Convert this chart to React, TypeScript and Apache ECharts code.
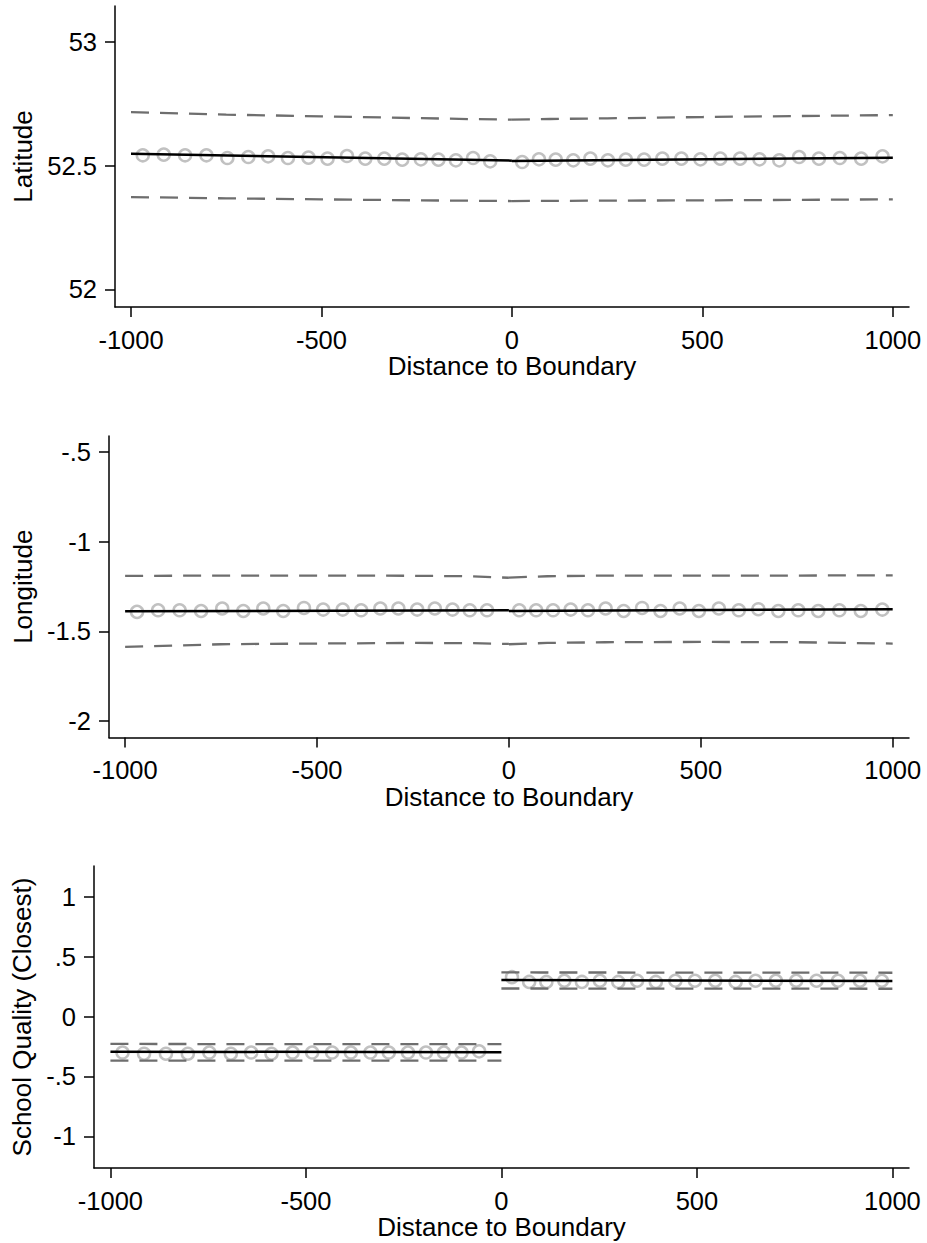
import React, { useEffect, useRef } from "react";
import * as echarts from "echarts";

// Bin centres (distance to boundary), shared by the three panels
const binXLeft = [-969, -914, -858, -802, -747, -692, -640, -588, -534, -484, -433, -385, -335, -288, -239, -193, -147, -102, -57];
const binXRight = [27, 71, 115, 161, 206, 252, 299, 347, 395, 445, 495, 547, 599, 650, 702, 754, 806, 861, 917, 973];

// Panel 1: Latitude
const latLeft = [52.5417, 52.5445, 52.5417, 52.5417, 52.5307, 52.5348, 52.5376, 52.5307, 52.5323, 52.5283, 52.5388, 52.5283, 52.5283, 52.5243, 52.5255, 52.5243, 52.5214, 52.5307, 52.5174];
const latRight = [52.5146, 52.5255, 52.5243, 52.5214, 52.5283, 52.5214, 52.5243, 52.5243, 52.5283, 52.5283, 52.5255, 52.5283, 52.5283, 52.5255, 52.5214, 52.5348, 52.5283, 52.5307, 52.5283, 52.5376];

// Panel 2: Longitude
const lonLeft = [-1.391, -1.382, -1.382, -1.386, -1.372, -1.386, -1.372, -1.386, -1.369, -1.378, -1.378, -1.382, -1.372, -1.372, -1.378, -1.372, -1.378, -1.382, -1.382];
const lonRight = [-1.382, -1.382, -1.382, -1.378, -1.382, -1.372, -1.386, -1.369, -1.386, -1.372, -1.386, -1.372, -1.382, -1.376, -1.386, -1.382, -1.386, -1.382, -1.386, -1.378];

// Panel 3: School Quality (Closest)
const sqLeft = [-0.3, -0.31, -0.31, -0.31, -0.3, -0.31, -0.3, -0.31, -0.3, -0.3, -0.3, -0.3, -0.3, -0.3, -0.3, -0.3, -0.3, -0.3, -0.29];
const sqRight = [0.33, 0.29, 0.29, 0.3, 0.29, 0.3, 0.29, 0.3, 0.29, 0.3, 0.3, 0.3, 0.29, 0.3, 0.3, 0.3, 0.3, 0.3, 0.3, 0.3];

// Linear fits (end points)
const fitXLeft = [-1000, 0];
const fitXRight = [0, 1000];
const latFitLeft = [52.5485, 52.5202];
const latFitRight = [52.5186, 52.5323];
const lonFitLeft = [-1.3874, -1.382];
const lonFitRight = [-1.3857, -1.3762];
const sqFitLeft = [-0.293, -0.297];
const sqFitRight = [0.306, 0.298];

// Confidence bands
const ciXLeft = [-1000, -750, -500, -250, -100, 0];
const ciXRight = [0, 100, 250, 500, 750, 1000];
const latUpLeft = [52.7167, 52.7062, 52.6994, 52.6921, 52.688, 52.686];
const latUpRight = [52.686, 52.6885, 52.6913, 52.6965, 52.7006, 52.7042];
const latLoLeft = [52.373, 52.3678, 52.3637, 52.3597, 52.358, 52.3569];
const latLoRight = [52.3569, 52.3575, 52.3585, 52.3597, 52.3617, 52.3637];
const lonUpLeft = [-1.1907, -1.1885, -1.1885, -1.1896, -1.1924, -1.2007];
const lonUpRight = [-1.1996, -1.1924, -1.1885, -1.1885, -1.1885, -1.187];
const lonLoLeft = [-1.5862, -1.5711, -1.5672, -1.5639, -1.565, -1.5695];
const lonLoRight = [-1.5711, -1.5639, -1.56, -1.5583, -1.56, -1.5672];
const sqUpLeft = [-0.228, -0.229, -0.229, -0.229, -0.23, -0.23];
const sqUpRight = [0.37, 0.369, 0.369, 0.368, 0.368, 0.367];
const sqLoLeft = [-0.368, -0.368, -0.367, -0.367, -0.368, -0.368];
const sqLoRight = [0.235, 0.235, 0.234, 0.234, 0.234, 0.233];

// Axis ticks and titles
const xTicks = [-1000, -500, 0, 500, 1000];
const yTicks1 = [52, 52.5, 53];
const yTicks2 = [-2, -1.5, -1, -0.5];
const yTicks3 = [-1, -0.5, 0, 0.5, 1];
const yNames = ["Latitude", "Longitude", "School Quality (Closest)"];
const xName = "Distance to Boundary";

const FONT = "'Liberation Sans', Arial, sans-serif";
const TITLE_SIZE = 26;
const TICK_SIZE = 25.5;

const zip = (xs: number[], ys: number[]) => xs.map((x, i) => [x, ys[i]]);
const fmt = (v: number) => {
  const s = String(Math.round(v * 1000) / 1000);
  return s.replace(/^(-?)0\./, "$1.");
};

export default function App() {
  const ref = useRef<HTMLDivElement>(null);

  useEffect(() => {
    if (!ref.current) return;
    const chart = echarts.init(ref.current, null, { renderer: "svg" });

    const grids = [
      { left: 115, right: 18, top: 6, height: 301 },
      { left: 109, right: 18, top: 436, height: 301.5 },
      { left: 94, right: 18, top: 866, height: 302 },
    ];
    const yRanges = [
      [51.9285, 53.1454],
      [-2.0908, -0.4109],
      [-1.265, 1.259],
    ];
    const yTicks = [yTicks1, yTicks2, yTicks3];
    const yNameGaps = [79, 73, 58];

    const axisLineStyle = { color: "#000", width: 1.5 };

    const xAxis = grids.map((_, i) => ({
      type: "value",
      gridIndex: i,
      min: -1042,
      max: 1042.5,
      name: xName,
      nameLocation: "middle",
      nameGap: 41.5,
      nameTextStyle: { fontSize: TITLE_SIZE, color: "#000", fontFamily: FONT },
      axisLine: { show: true, onZero: false, lineStyle: axisLineStyle },
      axisTick: { show: true, length: 10, lineStyle: axisLineStyle, customValues: xTicks },
      axisLabel: {
        show: true,
        customValues: xTicks,
        margin: 19.5,
        fontSize: TICK_SIZE,
        color: "#000",
        fontFamily: FONT,
        formatter: (v: number) => fmt(v),
      },
      splitLine: { show: false },
    }));

    const yAxis = grids.map((_, i) => ({
      type: "value",
      gridIndex: i,
      min: yRanges[i][0],
      max: yRanges[i][1],
      name: yNames[i],
      nameLocation: "middle",
      nameRotate: 90,
      nameGap: yNameGaps[i],
      nameTextStyle: { fontSize: TITLE_SIZE, color: "#000", fontFamily: FONT },
      axisLine: { show: true, onZero: false, lineStyle: axisLineStyle },
      axisTick: { show: true, length: 10, lineStyle: axisLineStyle, customValues: yTicks[i] },
      axisLabel: {
        show: true,
        customValues: yTicks[i],
        margin: 18,
        fontSize: TICK_SIZE,
        color: "#000",
        fontFamily: FONT,
        formatter: (v: number) => fmt(v),
      },
      splitLine: { show: false },
    }));

    const panels = [
      {
        sl: latLeft, sr: latRight, fl: latFitLeft, fr: latFitRight,
        ul: latUpLeft, ur: latUpRight, ll: latLoLeft, lr: latLoRight,
      },
      {
        sl: lonLeft, sr: lonRight, fl: lonFitLeft, fr: lonFitRight,
        ul: lonUpLeft, ur: lonUpRight, ll: lonLoLeft, lr: lonLoRight,
      },
      {
        sl: sqLeft, sr: sqRight, fl: sqFitLeft, fr: sqFitRight,
        ul: sqUpLeft, ur: sqUpRight, ll: sqLoLeft, lr: sqLoRight,
      },
    ];

    const series: any[] = [];
    panels.forEach((p, i) => {
      const scatter = (xs: number[], ys: number[]) => ({
        type: "scatter",
        xAxisIndex: i,
        yAxisIndex: i,
        data: zip(xs, ys),
        symbol: "circle",
        symbolSize: 12,
        itemStyle: { color: "rgba(255,255,255,0)", borderColor: "#b2b2b2", borderWidth: 2.5 },
        z: 1,
        silent: true,
      });
      const dashed = (xs: number[], ys: number[]) => ({
        type: "line",
        xAxisIndex: i,
        yAxisIndex: i,
        data: zip(xs, ys),
        showSymbol: false,
        symbol: "none",
        lineStyle: { color: "#6e6e6e", width: 2.3, type: [18, 11] },
        z: 2,
        silent: true,
      });
      const fit = (xs: number[], ys: number[]) => ({
        type: "line",
        xAxisIndex: i,
        yAxisIndex: i,
        data: zip(xs, ys),
        showSymbol: false,
        symbol: "none",
        lineStyle: { color: "#000", width: 2.5 },
        z: 3,
        silent: true,
      });
      series.push(scatter(binXLeft, p.sl));
      series.push(scatter(binXRight, p.sr));
      series.push(dashed(ciXLeft, p.ul));
      series.push(dashed(ciXRight, p.ur));
      series.push(dashed(ciXLeft, p.ll));
      series.push(dashed(ciXRight, p.lr));
      series.push(fit(fitXLeft, p.fl));
      series.push(fit(fitXRight, p.fr));
    });

    chart.setOption({
      animation: false,
      backgroundColor: "#fff",
      textStyle: { fontFamily: FONT, color: "#000" },
      grid: grids,
      xAxis,
      yAxis,
      series,
    });

    return () => chart.dispose();
  }, []);

  return (
    <div
      ref={ref}
      style={{ position: "absolute", left: 0, top: 0, width: 927, height: 1243, background: "#fff" }}
    />
  );
}
